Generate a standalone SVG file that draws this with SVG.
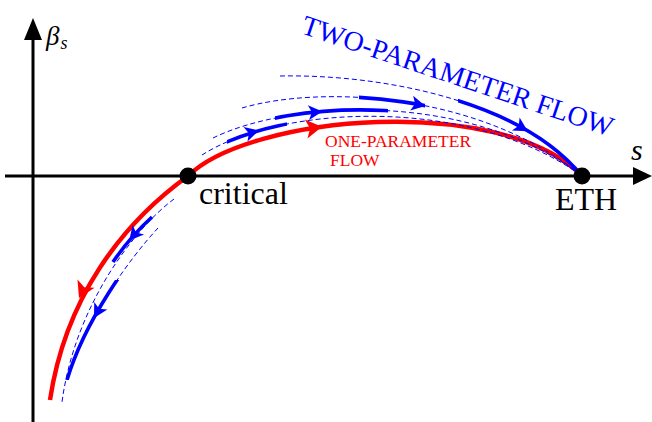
<svg xmlns="http://www.w3.org/2000/svg" xmlns:xlink="http://www.w3.org/1999/xlink" width="652" height="422" viewBox="0 0 652 422">
<style>
.ax{stroke:#000;stroke-width:3;fill:none}
.red{stroke:#f00;stroke-width:4.5;fill:none}
.thin{stroke:#00f;stroke-width:1;fill:none;stroke-dasharray:5 3}
.thick{stroke:#00f;stroke-width:3.6;fill:none}
.ser{font-family:"Liberation Serif","Times New Roman",serif}
.ab{fill:#00f}
.ar{fill:#f00}
</style>
<defs>
<path id="cA" d="M280,76 C380,74 520,100 582,176"/>
<path id="cB" d="M242,108 C320,85 480,92 582,176"/>
<path id="cC" d="M213,138 C290,100 470,90 582,176"/>
<path id="cD" d="M202,155 C280,105 470,95 582,176"/>
<path id="cL1" d="M174,199 C135,228 75,305 62,402"/>
<path id="cL3" d="M158,228 C130,258 85,320 67,380"/>
<clipPath id="kA" clipPathUnits="userSpaceOnUse"><rect x="458" y="0" width="200" height="422"/></clipPath>
<clipPath id="kB" clipPathUnits="userSpaceOnUse"><rect x="359" y="0" width="66" height="422"/></clipPath>
<clipPath id="kC" clipPathUnits="userSpaceOnUse"><rect x="275" y="0" width="113" height="422"/></clipPath>
<clipPath id="kD" clipPathUnits="userSpaceOnUse"><rect x="227" y="0" width="60" height="422"/></clipPath>
<clipPath id="kL3" clipPathUnits="userSpaceOnUse"><rect x="0" y="280" width="652" height="100"/></clipPath>
<path id="ahb" d="M0,0 L-14,-7.5 L-10.5,0 L-14,7.5 Z"/>
<path id="ahr" d="M0,0 L-16,-9.5 L-12,0 L-16,9.5 Z"/>
</defs>

<g id="axes">
<line class="ax" x1="33" y1="422" x2="33" y2="36"/>
<path d="M33,18 L24,40 L42,40 Z" fill="#000"/>
<line class="ax" x1="5" y1="176" x2="636" y2="176"/>
<path d="M652,176 L633,167 L633,185 Z" fill="#000"/>
<text class="ser" x="46" y="45" font-size="27" font-style="italic">β<tspan font-size="18" dx="1" dy="4">s</tspan></text>
<text class="ser" x="631" y="160" font-size="30" font-style="italic">s</text>
</g>

<g id="connectors">
<path class="red" d="M188,176 C250,115 500,93 582,176"/>
<path class="red" d="M188,176 C120,225 65,300 50,400"/>
<use xlink:href="#ahr" class="ar" transform="translate(322,126.8) rotate(-8)"/>
<use xlink:href="#ahr" class="ar" transform="translate(79,298) rotate(116)"/>

<use xlink:href="#cA" class="thin"/>
<use xlink:href="#cB" class="thin"/>
<use xlink:href="#cC" class="thin"/>
<use xlink:href="#cD" class="thin"/>
<use xlink:href="#cL1" class="thin"/>
<use xlink:href="#cL3" class="thin"/>

<use xlink:href="#cA" class="thick" clip-path="url(#kA)"/>
<use xlink:href="#cB" class="thick" clip-path="url(#kB)"/>
<use xlink:href="#cC" class="thick" clip-path="url(#kC)"/>
<use xlink:href="#cD" class="thick" clip-path="url(#kD)"/>
<use xlink:href="#cL3" class="thick" clip-path="url(#kL3)"/>
<path class="thick" d="M152,217 Q130,237 113,262"/>

<use xlink:href="#ahb" class="ab" transform="translate(527.8,131.2) rotate(30.7)"/>
<use xlink:href="#ahb" class="ab" transform="translate(425.4,105.9) rotate(11.4)"/>
<use xlink:href="#ahb" class="ab" transform="translate(322.4,111.5) rotate(-4.7)"/>
<use xlink:href="#ahb" class="ab" transform="translate(259,130.5) rotate(-15.5)"/>
<use xlink:href="#ahb" class="ab" transform="translate(129.3,240.5) rotate(130)"/>
<use xlink:href="#ahb" class="ab" transform="translate(94,318) rotate(119)"/>
</g>

<g id="critical">
<circle cx="188" cy="176" r="8.5" fill="#000"/>
<text class="ser" x="199" y="204" font-size="32">critical</text>
</g>

<g id="eth">
<circle cx="582" cy="176" r="8.5" fill="#000"/>
<text class="ser" x="586" y="210" font-size="32" text-anchor="middle">ETH</text>
</g>

<g id="labels">
<text class="ser" x="325" y="146.5" font-size="17.5" fill="#f00">ONE-PARAMETER</text>
<text class="ser" x="330" y="165.5" font-size="17.5" fill="#f00">FLOW</text>
<text class="ser" transform="translate(300,33) rotate(18.5)" font-size="28" fill="#00f">TWO-PARAMETER FLOW</text>
</g>
</svg>
